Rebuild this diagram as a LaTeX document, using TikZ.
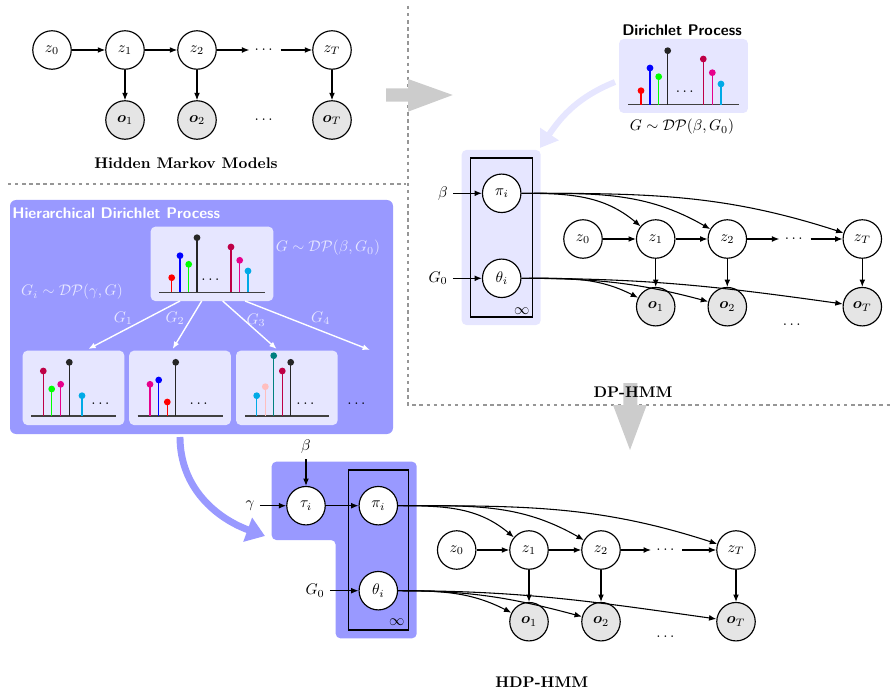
\documentclass[tikz,border=0pt]{standalone}
\usepackage{amsmath,amssymb,bm}
\usetikzlibrary{arrows.meta}
\definecolor{hdpblue}{RGB}{153,153,255}
\definecolor{lav}{RGB}{230,230,255}
\definecolor{cmaroon}{RGB}{190,0,70}
\definecolor{cmag}{RGB}{230,0,140}
\definecolor{ccyan}{RGB}{0,170,230}
\definecolor{cteal}{RGB}{0,128,128}
\definecolor{cpink}{RGB}{255,190,190}
\definecolor{dgray}{RGB}{150,150,150}
\definecolor{agray}{RGB}{204,204,204}
\newcommand{\stm}[4]{\draw[#4, line width=0.8pt] (#1,#2) -- (#1,#2-#3); \fill[#4] (#1,#2-#3) circle[radius=2.2pt];}
\newcommand{\bsl}[3]{\draw[black!75, line width=1pt] (#1,#3) -- (#2,#3);}
\tikzset{
  var/.style={circle, draw, line width=0.75pt, minimum size=25pt, inner sep=0pt, fill=white},
  obs/.style={var, fill=gray!20},
  arr/.style={-{Latex[length=4.8pt,width=3.8pt]}, line width=0.7pt},
  lbl/.style={inner sep=1pt},
  dashsep/.style={dgray, line width=1.5pt, dash pattern=on 2.2pt off 2.4pt},
  plate/.style={draw, line width=0.7pt},
  bigarrow/.style={fill=agray},
}
\begin{document}
\begin{tikzpicture}[x=0.65pt,y=-0.65pt]
\useasboundingbox (0,0) rectangle (895,693);

% separators
\draw[dashsep] (408,6) -- (408,405) -- (893,405);
\draw[dashsep] (8,184) -- (406,184);

% big gray arrows
\fill[bigarrow] (386,88.3) -- (408,88.3) -- (408,79) -- (452.7,95) -- (408,111.7) -- (408,101.7) -- (386,101.7) -- cycle;
\fill[bigarrow] (623.3,383) -- (637.3,383) -- (637.3,405) -- (646.7,405) -- (630,450) -- (613,405) -- (623.3,405) -- cycle;

% ---------------- HMM
\node[var] (a0) at (52,50) {$z_0$};
\node[var] (a1) at (125,50) {$z_1$};
\node[var] (a2) at (197,50) {$z_2$};
\node (ad) at (265,50) {$\cdots$};
\node[var] (aT) at (332,50) {$z_T$};
\node[obs] (ao1) at (125,120) {$\bm{o}_1$};
\node[obs] (ao2) at (197,120) {$\bm{o}_2$};
\node (aod) at (265,120) {$\cdots$};
\node[obs] (aoT) at (332,120) {$\bm{o}_T$};
\node (hmmt) at (186,163) {\textbf{Hidden Markov Models}};
\draw[arr] (a0) -- (a1);
\draw[arr] (a1) -- (a2);
\draw[arr] (a2) -- (ad);
\draw[arr] (ad) -- (aT);
\draw[arr] (a1) -- (ao1);
\draw[arr] (a2) -- (ao2);
\draw[arr] (aT) -- (aoT);

% ---------------- Dirichlet process
\node[font=\sffamily\bfseries] (dpt) at (682,30) {Dirichlet Process};
\node[fill=lav, rounded corners=3pt, minimum width=83.8pt, minimum height=48.1pt, inner sep=0pt] (dpbox) at (683.5,76) {};
\bsl{628}{739}{104.7}
\stm{641}{104.7}{14}{red}
\stm{650}{104.7}{36.7}{blue}
\stm{658.7}{104.7}{28}{green}
\stm{667.7}{104.7}{54}{black!85}
\stm{703.3}{104.7}{45.7}{cmaroon}
\stm{712.3}{104.7}{32}{cmag}
\stm{721}{104.7}{20.7}{ccyan}
\node (dpdots) at (686,92) {$\cdots$};
\node (dpl) at (682,127) {$G\sim\mathcal{DP}(\beta,G_0)$};
\coordinate (dpcs) at (615,82);
\coordinate (dpce) at (540,148);
\draw[lav, line width=3.9pt, -{Triangle[length=11pt,width=14pt]}] (dpcs) to[out=202,in=56] (dpce);

% ---------------- DP-HMM
\fill[lav, rounded corners=3pt] (461.7,150) rectangle (540.7,325);
\draw[plate] (470.7,158) rectangle (532.7,317);
\node (binf) at (521.7,311) {$\infty$};
\node[var] (bpi) at (501.7,193.3) {$\pi_i$};
\node[var] (bth) at (501.7,278.3) {$\theta_i$};
\node (bbeta) at (443,193.3) {$\beta$};
\node (bG) at (438,278.3) {$G_0$};
\node[var] (b0) at (583,239) {$z_0$};
\node[var] (b1) at (655.7,239) {$z_1$};
\node[var] (b2) at (727.3,239) {$z_2$};
\node (bd) at (795,239) {$\cdots$};
\node[var] (bT) at (862.3,239) {$z_T$};
\node[obs] (bo1) at (655.7,306.7) {$\bm{o}_1$};
\node[obs] (bo2) at (727.3,306.7) {$\bm{o}_2$};
\node[obs] (boT) at (862.3,306.7) {$\bm{o}_T$};
\node (bod) at (793,325) {$\cdots$};
\node (dphmm) at (633,392) {\textbf{DP-HMM}};
\draw[arr] (bbeta) -- (bpi);
\draw[arr] (bG) -- (bth);
\draw[arr] (b0) -- (b1);
\draw[arr] (b1) -- (b2);
\draw[arr] (b2) -- (bd);
\draw[arr] (bd) -- (bT);
\draw[arr] (b1) -- (bo1);
\draw[arr] (b2) -- (bo2);
\draw[arr] (bT) -- (boT);
\draw[arr] (bpi) to[out=0,in=140] (b1);
\draw[arr] (bpi) to[out=0,in=150] (b2);
\draw[arr] (bpi) to[out=0,in=162] (bT);
\draw[arr] (bth) to[out=0,in=153] (bo1);
\draw[arr] (bth) to[out=0,in=165] (bo2);
\draw[arr] (bth) to[out=0,in=172] (boT);

% ---------------- HDP
\fill[hdpblue, rounded corners=4pt] (10,200) rectangle (393,434);
\node[anchor=west, text=white, font=\sffamily\bfseries, inner sep=0pt] (hdpt) at (12,213) {Hierarchical Dirichlet Process};
\node[fill=lav, rounded corners=3pt, minimum width=79.7pt, minimum height=48.3pt, inner sep=0pt] (htop) at (212,263.85) {};
\bsl{159}{265}{292.3}
\stm{171.7}{292.3}{14.6}{red}
\stm{180}{292.3}{36.6}{blue}
\stm{188.7}{292.3}{28}{green}
\stm{197}{292.3}{54.6}{black!85}
\stm{231}{292.3}{45.3}{cmaroon}
\stm{239.7}{292.3}{32}{cmag}
\stm{248}{292.3}{21.3}{ccyan}
\node (htdots) at (211.7,280) {$\cdots$};
\node[text=lav] (hGl) at (328,248) {$G\sim\mathcal{DP}(\beta,G_0)$};
\node[text=lav] (hGil) at (72,292) {$G_i\sim\mathcal{DP}(\gamma,G)$};
% bottom boxes
\node[fill=lav, rounded corners=3pt, minimum width=66pt, minimum height=48.3pt, inner sep=0pt] (hb1) at (73.5,387.85) {};
\node[fill=lav, rounded corners=3pt, minimum width=66pt, minimum height=48.3pt, inner sep=0pt] (hb2) at (180,387.85) {};
\node[fill=lav, rounded corners=3pt, minimum width=66pt, minimum height=48.3pt, inner sep=0pt] (hb3) at (286.85,387.85) {};
\node (hbd) at (357.7,404) {$\cdots$};
\bsl{31}{116}{416}
\stm{43.3}{416}{45}{cmaroon}
\stm{51.7}{416}{27}{green}
\stm{60.7}{416}{31.7}{cmag}
\stm{69.3}{416}{53.7}{black!85}
\stm{82}{416}{20.3}{ccyan}
\node (hb1d) at (101.7,404) {$\cdots$};
\bsl{137.7}{222.7}{416}
\stm{150}{416}{31.7}{cmag}
\stm{158.7}{416}{36}{blue}
\stm{167.3}{416}{14}{red}
\stm{175.7}{416}{53.7}{black!85}
\node (hb2d) at (200,404) {$\cdots$};
\bsl{245}{329.3}{416}
\stm{256.7}{416}{20.3}{ccyan}
\stm{265.3}{416}{29.3}{cpink}
\stm{273.7}{416}{60.3}{cteal}
\stm{282.3}{416}{45}{cmaroon}
\stm{290.7}{416}{53.7}{black!85}
\node (hb3d) at (306.7,404) {$\cdots$};
% white arrows
\coordinate (hs1) at (180,301);
\coordinate (hs2) at (201.7,301);
\coordinate (hs3) at (222.7,301);
\coordinate (hs4) at (245,301);
\coordinate (he1) at (88.3,349);
\coordinate (he2) at (172.7,349);
\coordinate (he3) at (276.7,349);
\coordinate (he4) at (370,350);
\draw[arr, white, line width=0.9pt] (hs1) -- (he1);
\draw[arr, white, line width=0.9pt] (hs2) -- (he2);
\draw[arr, white, line width=0.9pt] (hs3) -- (he3);
\draw[arr, white, line width=0.9pt] (hs4) -- (he4);
\node[text=lav] (hg1) at (123.3,318.3) {$G_1$};
\node[text=lav] (hg2) at (175,318.3) {$G_2$};
\node[text=lav] (hg3) at (256,320) {$G_3$};
\node[text=lav] (hg4) at (320.7,318.3) {$G_4$};
% big curved arrow
\coordinate (hcs) at (180,437);
\coordinate (hce) at (265,536);
\draw[hdpblue, line width=4.5pt, -{Triangle[length=12pt,width=16pt]}] (hcs) to[out=-90,in=160] (hce);

% ---------------- HDP-HMM
\fill[hdpblue, rounded corners=3pt] (271.7,461.7) -- (416.7,461.7) -- (416.7,638.3) -- (335.7,638.3) -- (335.7,540) -- (271.7,540) -- cycle;
\draw[plate] (348.3,470) rectangle (408.3,630);
\node (cinf) at (396.7,622) {$\infty$};
\node[var] (ctau) at (306,505.7) {$\tau_i$};
\node[var] (cpi) at (378.3,505.7) {$\pi_i$};
\node[var] (cth) at (378.3,590.7) {$\theta_i$};
\node (cbeta) at (306,447) {$\beta$};
\node (cgam) at (250,505.7) {$\gamma$};
\node (cG) at (315,590.7) {$G_0$};
\node[var] (c0) at (456.7,550) {$z_0$};
\node[var] (c1) at (529,550) {$z_1$};
\node[var] (c2) at (601,550) {$z_2$};
\node (cd) at (666.7,550) {$\cdots$};
\node[var] (cT) at (736,550) {$z_T$};
\node[obs] (co1) at (529,621.7) {$\bm{o}_1$};
\node[obs] (co2) at (601,621.7) {$\bm{o}_2$};
\node[obs] (coT) at (736,621.7) {$\bm{o}_T$};
\node (cod) at (666.7,637) {$\cdots$};
\node (hdphmm) at (541.7,682) {\textbf{HDP-HMM}};
\draw[arr] (cbeta) -- (ctau);
\draw[arr] (cgam) -- (ctau);
\draw[arr] (ctau) -- (cpi);
\draw[arr] (cG) -- (cth);
\draw[arr] (c0) -- (c1);
\draw[arr] (c1) -- (c2);
\draw[arr] (c2) -- (cd);
\draw[arr] (cd) -- (cT);
\draw[arr] (c1) -- (co1);
\draw[arr] (c2) -- (co2);
\draw[arr] (cT) -- (coT);
\draw[arr] (cpi) to[out=0,in=140] (c1);
\draw[arr] (cpi) to[out=0,in=150] (c2);
\draw[arr] (cpi) to[out=0,in=162] (cT);
\draw[arr] (cth) to[out=0,in=153] (co1);
\draw[arr] (cth) to[out=0,in=165] (co2);
\draw[arr] (cth) to[out=0,in=172] (coT);
\end{tikzpicture}
\end{document}
